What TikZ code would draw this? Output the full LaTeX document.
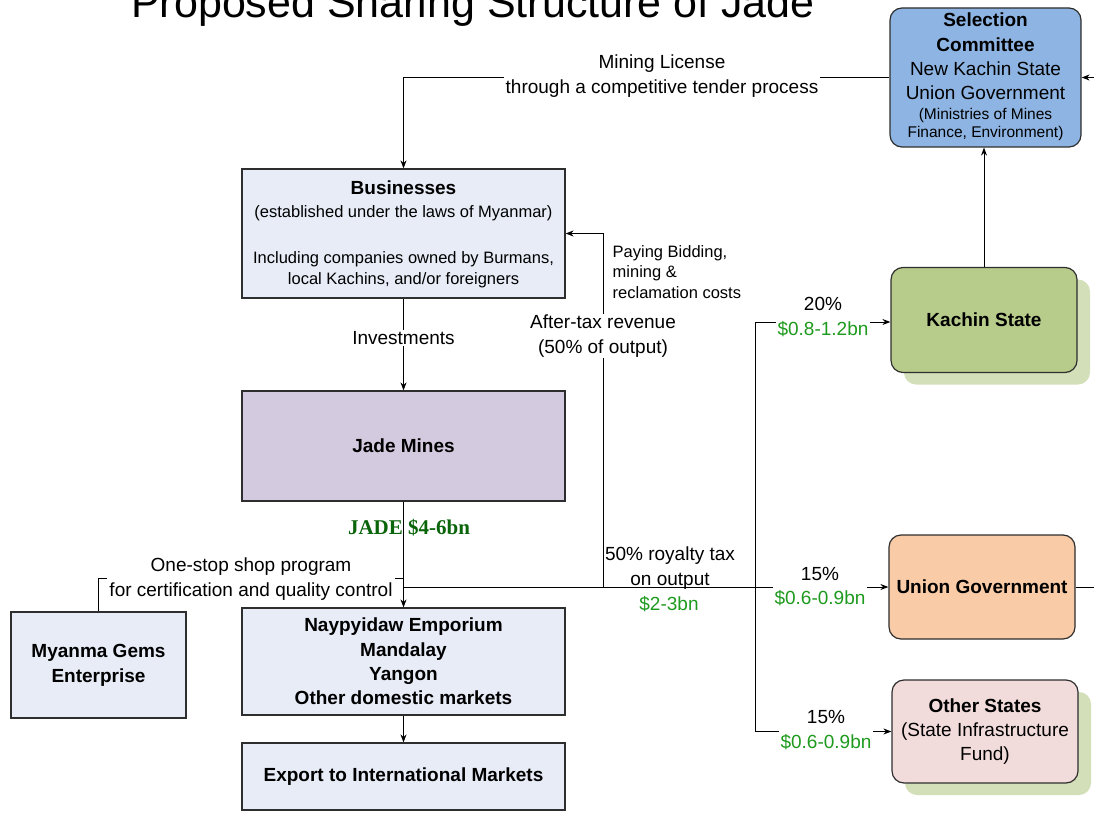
\documentclass[tikz,border=0pt]{standalone}
\usepackage{fontspec}
\setmainfont{Liberation Sans}
\newfontfamily\jadefont{Liberation Serif}
\usetikzlibrary{arrows.meta,shadows}
\definecolor{selblue}{HTML}{8DB4E2}
\definecolor{kacgreen}{HTML}{B7CB8B}
\definecolor{shgreen}{HTML}{D3DFB8}
\definecolor{unipeach}{HTML}{F9CBA6}
\definecolor{othpink}{HTML}{F2DCDB}
\definecolor{lightbox}{HTML}{E7ECF7}
\definecolor{jadelav}{HTML}{D4CADF}
\definecolor{money}{HTML}{1E9A1E}
\definecolor{jadegreen}{HTML}{0A640A}
\definecolor{edgegray}{HTML}{2E2E2E}
\newcommand\mainfs{\fontsize{19}{24.3}\selectfont}
\newcommand\smallfs{\fontsize{16.5}{20.7}\selectfont}
\newcommand\tinyfs{\fontsize{15.5}{18}\selectfont}
\begin{document}
\begin{tikzpicture}[x=1pt,y=-1pt,
  sqbox/.style={draw=edgegray,line width=1.2pt,inner sep=0pt,align=center,font=\mainfs},
  rbox/.style={sqbox,rounded corners=12pt},
  gshadow/.style={general shadow={fill=shgreen,shadow xshift=13pt,shadow yshift=-12pt}},
  arr/.style={line width=1pt,-{Stealth[length=8pt,width=6pt]}},
  ln/.style={line width=1pt},
  lbl/.style={inner sep=1.5pt,align=center,font=\mainfs},
  wlbl/.style={lbl,fill=white},
  money/.style={text=money}]
\useasboundingbox (0,0) rectangle (1094,813);
% title
\node[anchor=base,inner sep=0pt,font=\fontsize{43}{50}\selectfont] (title) at (473,18) {Proposed Sharing Structure of Jade};
% right boxes
\node[rbox,fill=selblue,minimum width=191pt,minimum height=139pt] (sel) at (985.5,77.5) {};
\node[lbl,inner sep=0pt] (seltxt) at (985.5,56.5) {\textbf{Selection}\\\textbf{Committee}\\New Kachin State\\Union Government};
\node[lbl,inner sep=0pt,font=\tinyfs] (selsub) at (985.5,124) {(Ministries of Mines\\Finance, Environment)};
\node[rbox,gshadow,fill=kacgreen,minimum width=186pt,minimum height=105pt,font=\mainfs\bfseries] (kac) at (984,320) {Kachin State};
\node[rbox,fill=unipeach,minimum width=186pt,minimum height=104pt,font=\mainfs\bfseries] (uni) at (982,587) {Union Government};
\node[rbox,gshadow,fill=othpink,minimum width=186pt,minimum height=103pt] (oth) at (985,731.5) {\textbf{Other States}\\(State Infrastructure\\Fund)};
% left boxes
\node[sqbox,fill=lightbox,minimum width=323pt,minimum height=129pt] (bus) at (403.5,233.5) {};
\node[lbl,inner sep=0pt,font=\mainfs\bfseries] (bustitle) at (403.5,188) {Businesses};
\node[lbl,inner sep=0pt,font=\smallfs] (bussub) at (403.5,213) {(established under the laws of Myanmar)};
\node[lbl,inner sep=0pt,font=\smallfs] (busincl) at (403.5,270) {Including companies owned by Burmans,\\local Kachins, and/or foreigners};
\node[sqbox,fill=jadelav,minimum width=323pt,minimum height=110pt,font=\mainfs\bfseries] (jade) at (403.5,446) {Jade Mines};
\node[sqbox,fill=lightbox,minimum width=323pt,minimum height=107pt,font=\mainfs\bfseries] (nay) at (403.5,661.5) {Naypyidaw Emporium\\Mandalay\\Yangon\\Other domestic markets};
\node[sqbox,fill=lightbox,minimum width=323pt,minimum height=67pt,font=\mainfs\bfseries] (exp) at (403.5,776.5) {Export to International Markets};
\node[sqbox,fill=lightbox,minimum width=175pt,minimum height=106pt,font=\fontsize{19}{25}\selectfont\bfseries] (mge) at (98.5,665) {Myanma Gems\\Enterprise};
% junction coordinates
\coordinate (j1) at (403,578);
\coordinate (j2) at (403,587);
\coordinate (j3) at (603,587);
\coordinate (br) at (755,587);
\coordinate (edgeR) at (1110,587);
% connectors
\draw[arr] (sel.west) -| (bus.north);
\node[wlbl] (ml) at (662,76) {Mining License\\through a competitive tender process};
\draw[arr] (kac.north) -- (kac.north |- sel.south);
\draw[arr] (uni.east) -- (edgeR) |- (sel.east);
\draw[arr] (bus.south) -- (jade.north);
\node[wlbl] (inv) at (403.5,338) {Investments};
\draw[arr] (jade.south) -- (nay.north);
\draw[arr] (nay.south) -- (exp.north);
\node[lbl,inner sep=0pt,font=\jadefont\fontsize{21}{24}\selectfont\bfseries,text=jadegreen] (jadeval) at (409,528) {JADE \$4-6bn};
\draw[ln] (mge.north) |- (j1);
\node[wlbl,inner sep=2pt] (osp) at (251,579) {One-stop shop program\\for certification and quality control};
\draw[arr] (j2) -- (uni.west);
\node[wlbl] (l15a) at (820,586.5) {15\%\\\textcolor{money}{\$0.6-0.9bn}};
\draw[arr] (j3) |- (bus.east);
\node[wlbl] (atr) at (603,336) {After-tax revenue\\(50\% of output)};
\node[lbl,anchor=west,align=left,font=\smallfs] (pay) at (611,272) {Paying Bidding,\\mining \&\\reclamation costs};
\node[lbl,inner sep=0pt] (roy) at (670,568) {50\% royalty tax\\on output};
\node[lbl,inner sep=0pt,text=money] (roy2) at (669,604) {\$2-3bn};
\draw[arr] (br) |- ([yshift=-2pt]kac.west);
\node[wlbl] (l20) at (823,317) {20\%\\\textcolor{money}{\$0.8-1.2bn}};
\draw[arr] (br) |- (oth.west);
\node[wlbl] (l15b) at (826,730) {15\%\\\textcolor{money}{\$0.6-0.9bn}};
\end{tikzpicture}
\end{document}
